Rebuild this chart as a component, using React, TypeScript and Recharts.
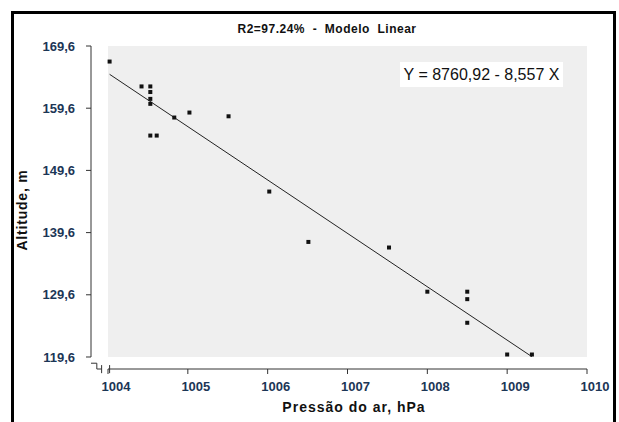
import {
  ComposedChart,
  Scatter,
  Line,
  XAxis,
  YAxis,
  ReferenceArea,
  ReferenceLine,
  Label,
} from "recharts";

// valores
const pressao = [
  1004.02, 1004.42, 1004.53, 1004.53, 1004.53, 1004.53, 1004.53, 1004.61,
  1004.83, 1005.02, 1005.51, 1006.02, 1006.51, 1007.52, 1008.0, 1008.5,
  1008.5, 1008.5, 1009.0, 1009.31,
];
const altitude = [
  167.1, 163.1, 163.1, 162.2, 161.1, 160.3, 155.2, 155.2, 158.1, 158.9,
  158.3, 146.2, 138.1, 137.2, 130.1, 130.1, 128.9, 125.1, 120.0, 120.0,
];
// reta ajustada (extremos)
const retaX = [1004.02, 1009.31];
const retaY = [165.05, 119.65];

const ticksX = [1004, 1005, 1006, 1007, 1008, 1009, 1010];
const ticksY = [119.6, 129.6, 139.6, 149.6, 159.6, 169.6];

const dominioX: [number, number] = [1003.787, 1010];
const dominioY: [number, number] = [117.67, 169.6];

const pontos = pressao.map((x, i) => ({ x, y: altitude[i] }));
const reta = retaX.map((x, i) => ({ x, y: retaY[i] }));

const fonte = "'Liberation Sans', Arial, sans-serif";
const azul = "#1c3656";
const eixo = "#333";

const Quadrado = (props: any) => {
  const { cx, cy } = props;
  if (cx == null || cy == null) return null;
  return <rect x={cx - 2} y={cy - 2} width={4} height={4} fill="#111" />;
};

const fmt = (v: number) => v.toFixed(1).replace(".", ",");

export default function App() {
  return (
    <div
      style={{
        position: "fixed",
        left: 0,
        top: 0,
        width: 619,
        height: 422,
        overflow: "hidden",
        background: "#fff",
        fontFamily: fonte,
      }}
    >
      <div
        style={{
          position: "absolute",
          left: 11,
          top: 11,
          width: 605,
          height: 430,
          border: "3px solid #000",
          boxSizing: "border-box",
        }}
      />
      <div
        style={{
          position: "absolute",
          left: 207,
          top: 22,
          width: 240,
          textAlign: "center",
          fontSize: 12,
          fontWeight: "bold",
          letterSpacing: 0.5,
          lineHeight: "14px",
          whiteSpace: "pre",
          color: "#111",
        }}
      >
        {"R2=97.24%  -  Modelo  Linear"}
      </div>
      <div style={{ position: "absolute", left: 0, top: 0 }}>
        <ComposedChart
          width={619}
          height={422}
          margin={{ top: 46, right: 32, bottom: 0, left: 0 }}
        >
          <XAxis
            type="number"
            dataKey="x"
            domain={dominioX}
            ticks={ticksX}
            allowDataOverflow
            height={53}
            axisLine={false}
            tickLine={{ stroke: eixo }}
            tickSize={5}
            tickMargin={8}
            tick={{ fill: azul, fontSize: 13, fontWeight: "bold", fontFamily: fonte, dx: 8 }}
          >
            <Label
              content={(p: any) => {
                const vb = p.viewBox;
                return (
                  <text
                    x={vb.x + vb.width / 2 + 15}
                    y={vb.y + 43}
                    textAnchor="middle"
                    fontSize={14}
                    fontWeight="bold"
                    fontFamily={fonte}
                    letterSpacing={1}
                    fill="#111"
                  >
                    Pressão do ar, hPa
                  </text>
                );
              }}
            />
          </XAxis>
          <YAxis
            type="number"
            dataKey="y"
            domain={dominioY}
            ticks={ticksY}
            allowDataOverflow
            width={91}
            axisLine={false}
            tickLine={{ stroke: eixo }}
            tickSize={5}
            tickMargin={11}
            tickFormatter={fmt}
            tick={{ fill: azul, fontSize: 13, fontWeight: "bold", fontFamily: fonte }}
          >
            <Label
              content={() => {
                const cx = 27;
                const cy = 210;
                return (
                  <text
                    x={cx}
                    y={cy}
                    transform={`rotate(-90, ${cx}, ${cy})`}
                    textAnchor="middle"
                    fontSize={14}
                    fontWeight="bold"
                    fontFamily={fonte}
                    letterSpacing={0.8}
                    fill="#111"
                  >
                    Altitude, m
                  </text>
                );
              }}
            />
          </YAxis>
          <ReferenceArea
            x1={1004}
            x2={1010}
            y1={119.6}
            y2={169.6}
            fill="#efefef"
            fillOpacity={1}
            stroke="none"
            ifOverflow="visible"
          />
          <ReferenceLine
            segment={[
              { x: dominioX[0], y: 119.6 },
              { x: dominioX[0], y: 169.6 },
            ]}
            stroke={eixo}
            ifOverflow="visible"
          />
          <ReferenceLine
            segment={[
              { x: 1004, y: dominioY[0] },
              { x: 1010, y: dominioY[0] },
            ]}
            stroke={eixo}
            ifOverflow="visible"
          />
          <ReferenceLine
            segment={[
              { x: 1003.787, y: 118.6 },
              { x: 1003.86, y: 118.6 },
            ]}
            stroke={eixo}
            ifOverflow="visible"
          />
          <ReferenceLine
            segment={[
              { x: 1003.86, y: 118.6 },
              { x: 1003.86, y: 117.67 },
            ]}
            stroke={eixo}
            ifOverflow="visible"
          />
          <ReferenceLine
            segment={[
              { x: 1003.86, y: 117.67 },
              { x: 1003.92, y: 117.67 },
            ]}
            stroke={eixo}
            ifOverflow="visible"
          />
          <ReferenceLine
            segment={[
              { x: 1003.92, y: 118.3 },
              { x: 1003.92, y: 117.0 },
            ]}
            stroke={eixo}
            ifOverflow="visible"
          />
          <ReferenceLine
            segment={[
              { x: 1004.02, y: 118.3 },
              { x: 1004.02, y: 117.0 },
            ]}
            stroke={eixo}
            ifOverflow="visible"
          />
          <Line
            data={reta}
            dataKey="y"
            type="linear"
            stroke="#222"
            strokeWidth={1}
            dot={false}
            isAnimationActive={false}
          />
          <Scatter
            data={pontos}
            dataKey="y"
            shape={<Quadrado />}
            isAnimationActive={false}
          />
        </ComposedChart>
      </div>
      <div
        style={{
          position: "absolute",
          left: 400,
          top: 62,
          width: 163,
          height: 25,
          background: "#fff",
          fontSize: 16,
          lineHeight: "25px",
          textAlign: "center",
          color: "#111",
          whiteSpace: "pre",
        }}
      >
        Y = 8760,92 - 8,557 X
      </div>
    </div>
  );
}
